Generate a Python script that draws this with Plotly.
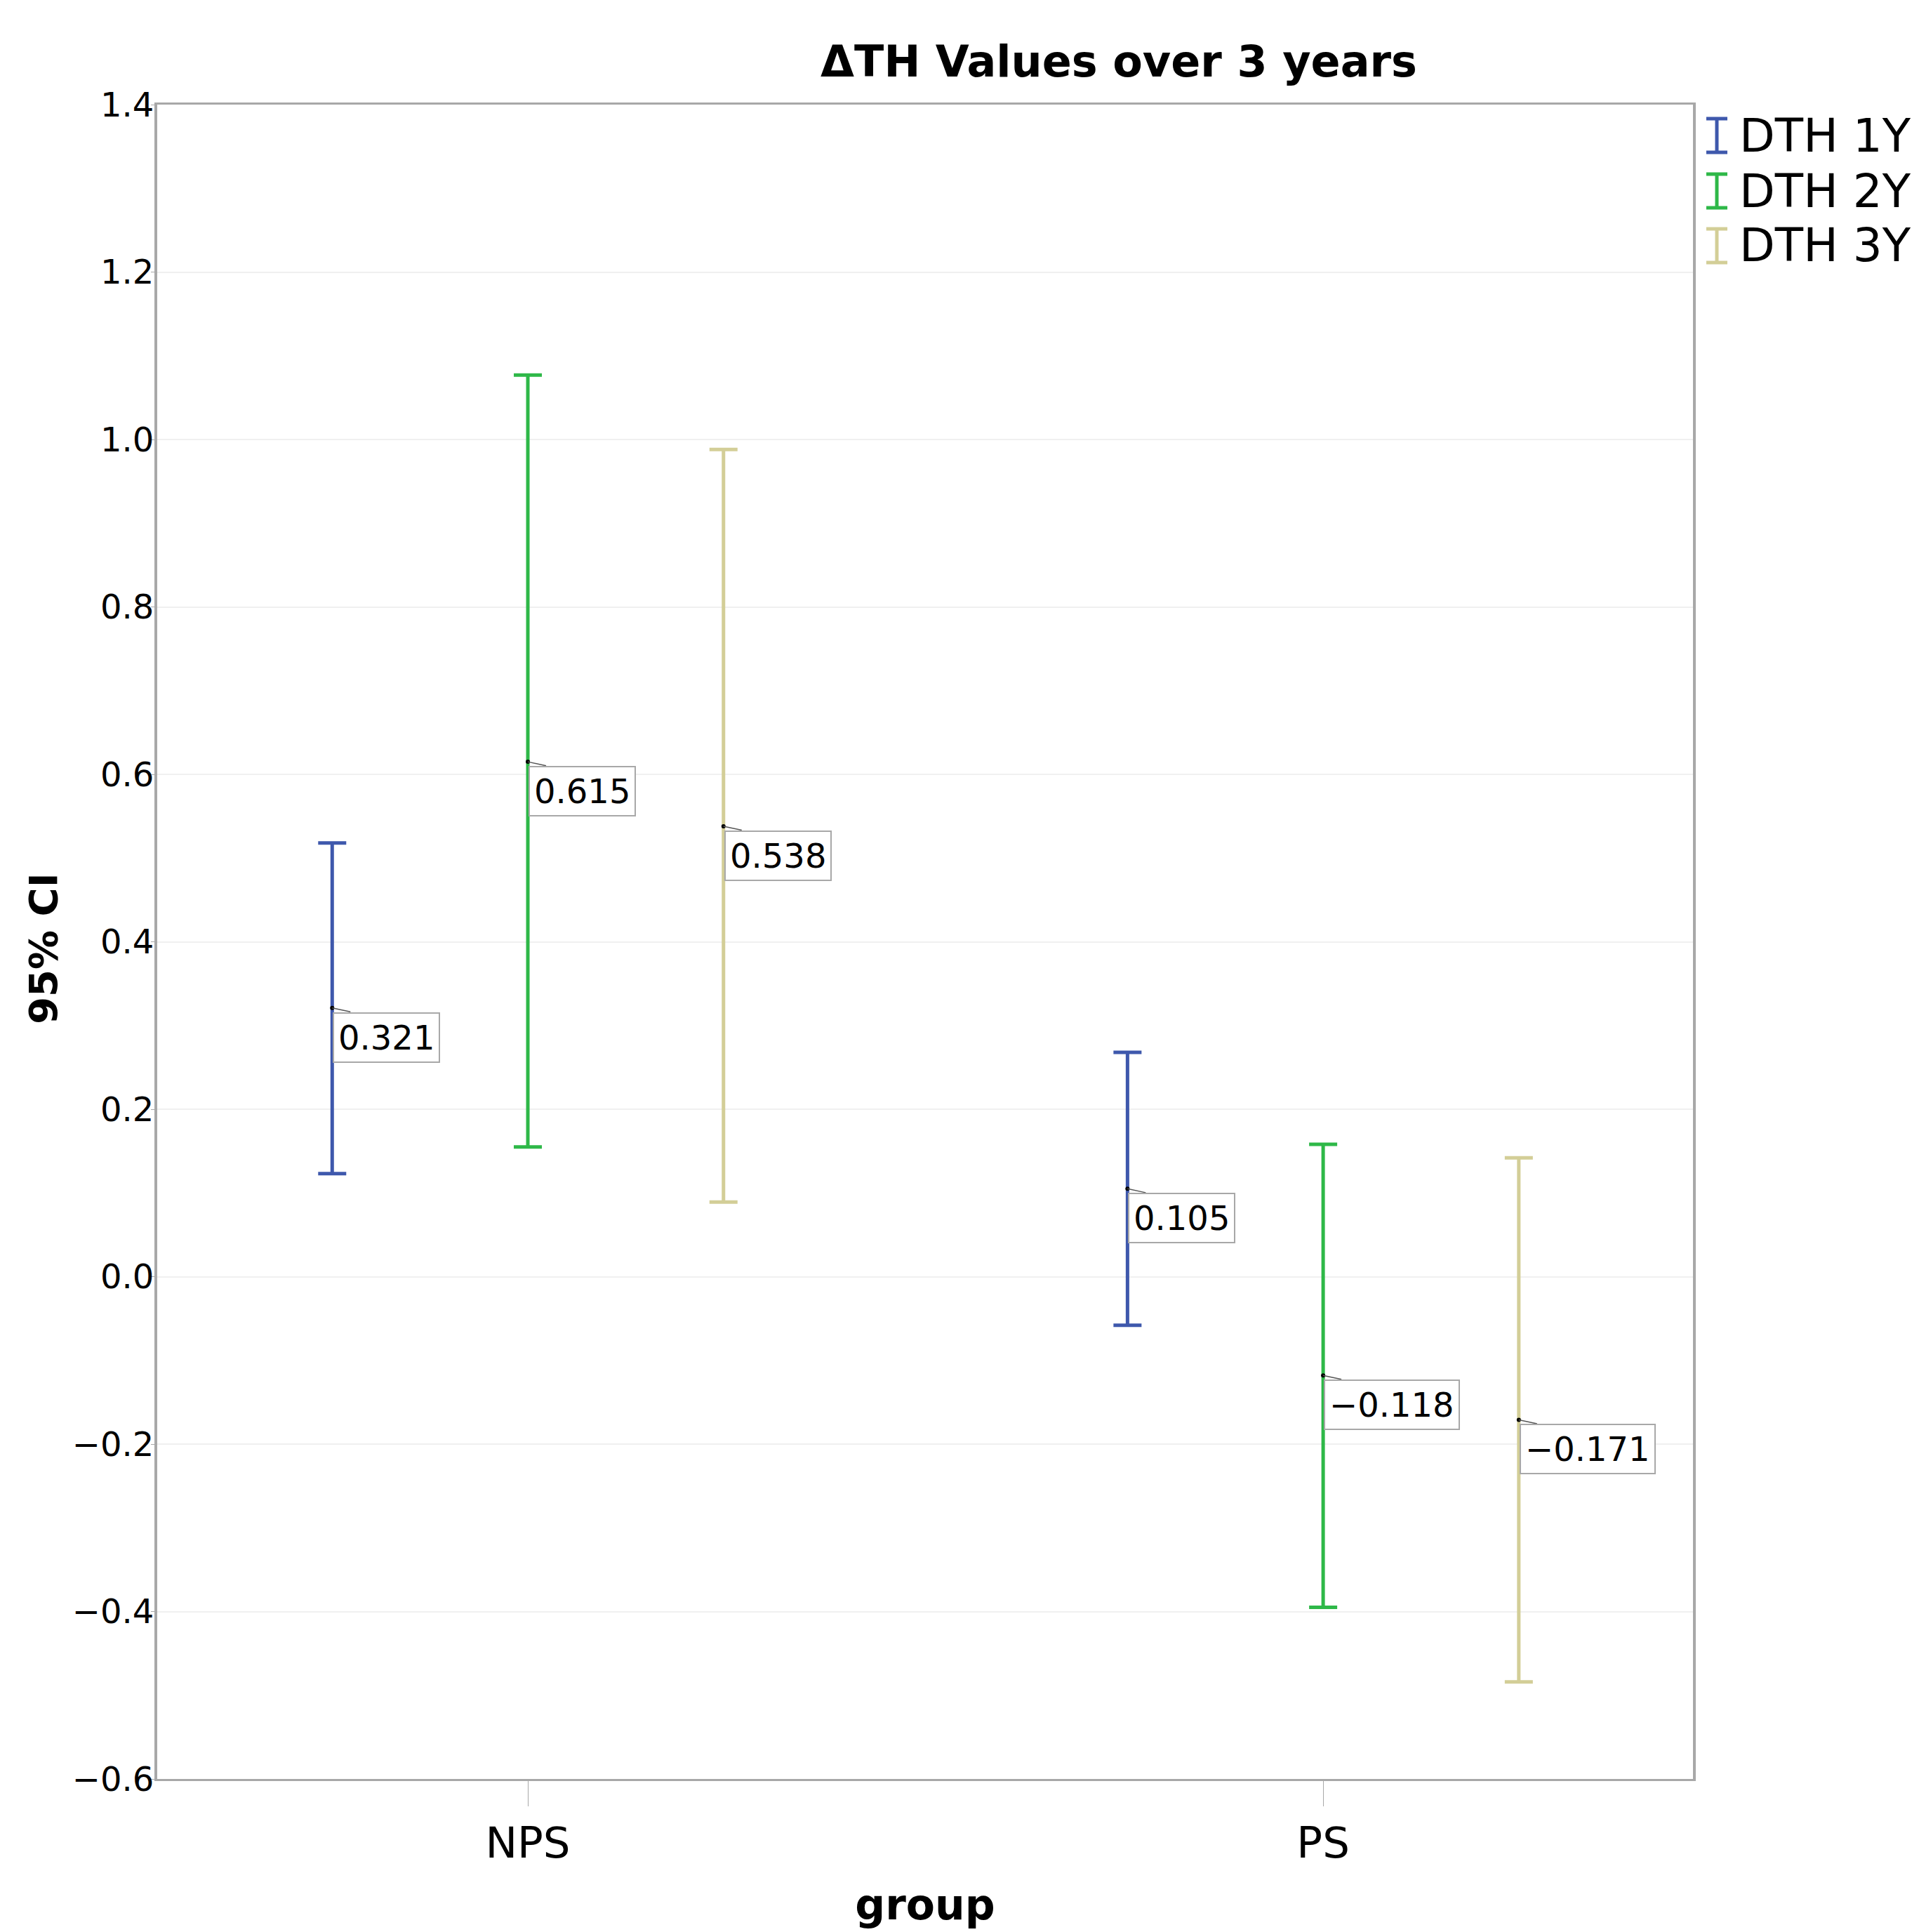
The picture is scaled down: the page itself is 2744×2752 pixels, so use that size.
import plotly.graph_objects as go

groups = ["NPS", "PS"]
series_names = ["DTH 1Y", "DTH 2Y", "DTH 3Y"]

mean_1y = [0.321, 0.105]
lower_1y = [0.123, -0.058]
upper_1y = [0.518, 0.268]

mean_2y = [0.615, -0.118]
lower_2y = [0.155, -0.395]
upper_2y = [1.077, 0.158]

mean_3y = [0.538, -0.171]
lower_3y = [0.089, -0.484]
upper_3y = [0.988, 0.142]

y_ticks = [-0.6, -0.4, -0.2, 0.0, 0.2, 0.4, 0.6, 0.8, 1.0, 1.2, 1.4]

colors = ["#3E58AC", "#2EB848", "#D3CE97"]
offsets = [-0.246, 0.0, 0.246]
FONT = "DejaVu Sans"

W, H = 2744, 2752
ML, MR, MT, MB = 216, 340, 141, 226
PW, PH = W - ML - MR, H - MT - MB


def px_x(px):
    return (px - ML) / PW


def px_y(py):
    return (H - MB - py) / PH


series = [
    (mean_1y, lower_1y, upper_1y),
    (mean_2y, lower_2y, upper_2y),
    (mean_3y, lower_3y, upper_3y),
]

fig = go.Figure()
annotations = []
shapes = []


def fmt(v):
    return f"{v:.3f}".replace("-", "\u2212")


for i, (name, (m, lo, hi)) in enumerate(zip(series_names, series)):
    xs = [g + offsets[i] for g in range(len(groups))]
    fig.add_trace(go.Scatter(
        x=xs, y=m, mode="markers", name=name, showlegend=False,
        marker=dict(color="black", size=6),
        error_y=dict(type="data", symmetric=False,
                     array=[h - v for h, v in zip(hi, m)],
                     arrayminus=[v - l for v, l in zip(m, lo)],
                     color=colors[i], thickness=5, width=20),
    ))
    for x, v in zip(xs, m):
        # thin leader line from the mean point
        annotations.append(dict(
            x=x, y=v, xref="x", yref="y", text=" ", showarrow=True,
            ax=28, ay=6, axref="pixel", ayref="pixel",
            arrowhead=0, arrowwidth=1.5, arrowcolor="#555555", standoff=0,
            font=dict(size=2),
        ))
        annotations.append(dict(
            x=x, y=v, xref="x", yref="y", text=fmt(v), showarrow=False,
            xanchor="left", yanchor="top", xshift=1, yshift=-6,
            font=dict(family=FONT, size=48, color="black"),
            bgcolor="white", bordercolor="#A8A8A8", borderwidth=2, borderpad=6,
        ))

# legend drawn manually: I-beam symbol + label
leg_cy = [185, 264, 342]
sym_x, cap_half, sym_half_h = 2438, 15, 24
for i, name in enumerate(series_names):
    cy = leg_cy[i]
    line = dict(color=colors[i], width=5)
    shapes.append(dict(type="line", xref="paper", yref="paper",
                       x0=px_x(sym_x), x1=px_x(sym_x),
                       y0=px_y(cy - sym_half_h), y1=px_y(cy + sym_half_h), line=line))
    for dy in (-sym_half_h, sym_half_h):
        shapes.append(dict(type="line", xref="paper", yref="paper",
                           x0=px_x(sym_x - cap_half), x1=px_x(sym_x + cap_half),
                           y0=px_y(cy + dy), y1=px_y(cy + dy), line=line))
    annotations.append(dict(
        x=px_x(2468), y=px_y(cy), xref="paper", yref="paper", text=name,
        showarrow=False, xanchor="left", yanchor="middle",
        font=dict(family=FONT, size=66, color="black"),
    ))

# y-axis title
annotations.append(dict(
    x=px_x(53), y=px_y(1344), xref="paper", yref="paper", text="<b>95% CI</b>",
    textangle=-90, showarrow=False, xanchor="center", yanchor="middle",
    font=dict(family=FONT, size=56, color="black"),
))

fig.update_layout(
    width=W, height=H,
    margin=dict(l=ML, r=MR, t=MT, b=MB, autoexpand=False),
    paper_bgcolor="white", plot_bgcolor="white",
    title=dict(text="<b>\u0394TH Values over 3 years</b>", x=0.578, xanchor="center",
               y=1 - 79 / H, yanchor="middle", yref="container",
               font=dict(family=FONT, size=62, color="black")),
    annotations=annotations,
    shapes=shapes,
    showlegend=False,
)
fig.update_xaxes(
    range=[-0.466, 1.465], tickvals=list(range(len(groups))), ticktext=groups,
    showgrid=False, zeroline=False, showline=True, linecolor="#A8A8A8", linewidth=3,
    mirror=True, ticks="outside", ticklen=36, tickcolor="#A8A8A8", tickwidth=1,
    tickfont=dict(family=FONT, size=61, color="black"), automargin=False,
    title=dict(text="<b>group</b>", font=dict(family=FONT, size=60, color="black"), standoff=33),
)
fig.update_yaxes(
    range=[-0.6, 1.4], tickvals=y_ticks, tickformat=".1f",
    showgrid=True, gridcolor="#F0F0F0", gridwidth=2, zeroline=False,
    showline=True, linecolor="#A8A8A8", linewidth=4, mirror=True,
    ticks="outside", ticklen=5, tickcolor="#A8A8A8", tickwidth=1,
    ticklabelstandoff=-14,
    tickfont=dict(family=FONT, size=48, color="black"), automargin=False,
)

fig.write_html("out.html")
